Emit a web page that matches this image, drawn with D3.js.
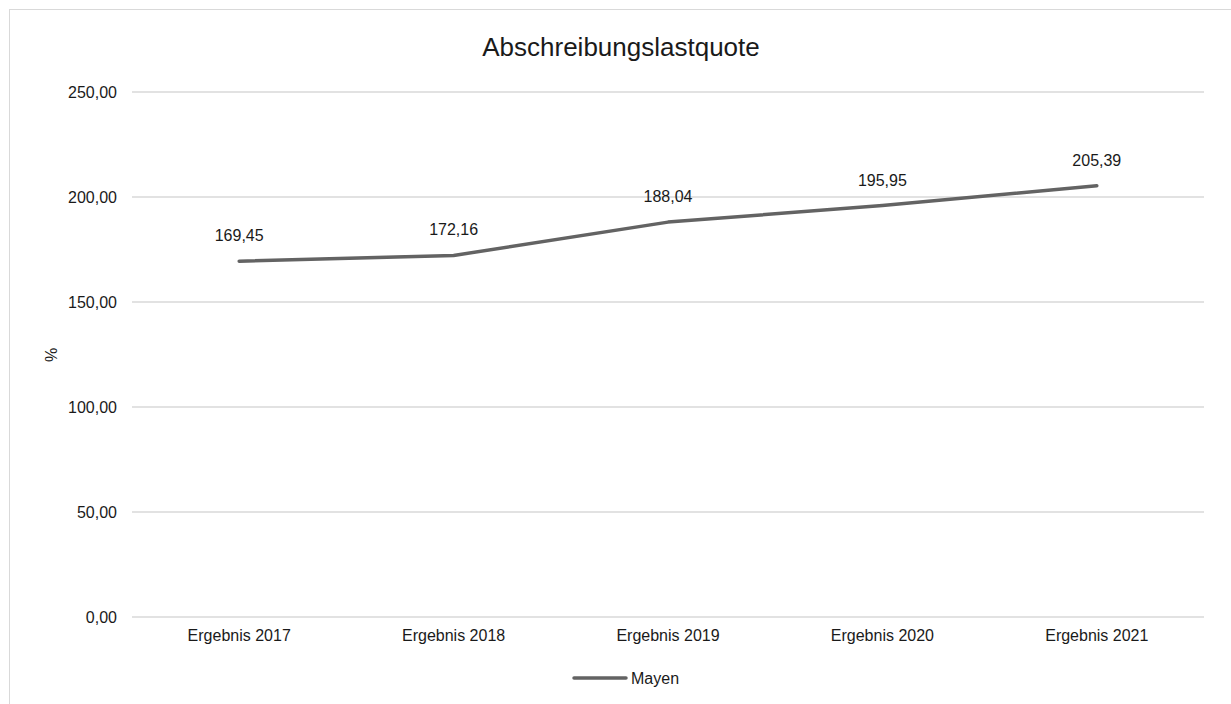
<!DOCTYPE html>
<html><head><meta charset="utf-8">
<script src="https://cdn.jsdelivr.net/npm/d3@7"></script>
<style>body{margin:0;background:#fff}svg{display:block}text{font-family:"Liberation Sans",Arial,sans-serif;fill:#1a1a1a}</style>
</head><body><svg id="c" width="1231" height="704"></svg>
<script>
const categories = ["Ergebnis 2017","Ergebnis 2018","Ergebnis 2019","Ergebnis 2020","Ergebnis 2021"];
const values = [169.45, 172.16, 188.04, 195.95, 205.39];
const yTicks = [0, 50, 100, 150, 200, 250];
const seriesName = "Mayen";
const title = "Abschreibungslastquote";
const yLabel = "%";

const svg = d3.select("#c");
const fmt = v => d3.format(".2f")(v).replace(".", ",");
svg.append("rect").attr("x",9.5).attr("y",9.5).attr("width",1240).attr("height",720)
  .attr("fill","#fff").attr("stroke","#d9d9d9");

const L=132,R=1204,T=92,B=617;
const x = d3.scaleBand().domain(categories).range([L,R]);
const y = d3.scaleLinear().domain([0,250]).range([B,T]);

svg.append("g").selectAll("line").data(yTicks).join("line")
  .attr("x1",L).attr("x2",R).attr("y1",d=>y(d)).attr("y2",d=>y(d))
  .attr("stroke","#d9d9d9").attr("stroke-width",1.3);
svg.append("g").selectAll("text").data(yTicks).join("text")
  .attr("x",117).attr("y",d=>y(d)+6).attr("text-anchor","end").attr("font-size",16).text(fmt);
svg.append("g").selectAll("text").data(categories).join("text")
  .attr("x",d=>x(d)+x.bandwidth()/2).attr("y",641).attr("text-anchor","middle").attr("font-size",16).text(d=>d);

const line = d3.line().x((d,i)=>x(categories[i])+x.bandwidth()/2).y(d=>y(d));
svg.append("path").datum(values).attr("d",line).attr("fill","none")
  .attr("stroke","#636363").attr("stroke-width",3.5).attr("stroke-linejoin","round").attr("stroke-linecap","round");
svg.append("g").selectAll("text").data(values).join("text")
  .attr("x",(d,i)=>x(categories[i])+x.bandwidth()/2).attr("y",d=>y(d)-20)
  .attr("text-anchor","middle").attr("font-size",16).text(fmt);

svg.append("text").attr("x",621).attr("y",56).attr("text-anchor","middle").attr("font-size",26).text(title);
svg.append("text").attr("transform","translate(57,355) rotate(-90)").attr("text-anchor","middle").attr("font-size",16).text(yLabel);

svg.append("line").attr("x1",574).attr("x2",626).attr("y1",678).attr("y2",678)
  .attr("stroke","#636363").attr("stroke-width",3.5).attr("stroke-linecap","round");
svg.append("text").attr("x",631).attr("y",684).attr("font-size",16).text(seriesName);
</script></body></html>
